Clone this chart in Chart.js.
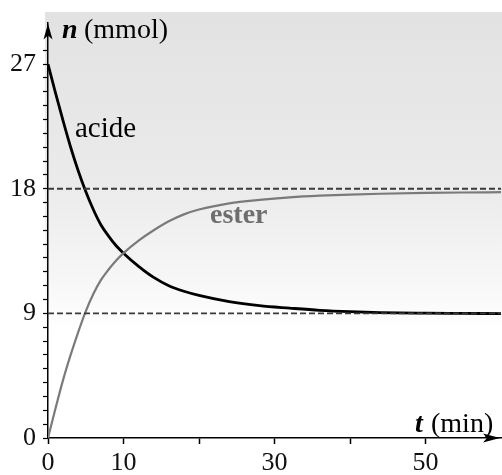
<!DOCTYPE html>
<html>
<head>
<meta charset="utf-8">
<script src="https://cdn.jsdelivr.net/npm/chart.js@4/dist/chart.umd.min.js"></script>
<style>
  html, body { margin: 0; padding: 0; background: #fff; }
  #wrap { width: 502px; height: 475px; }
</style>
</head>
<body>
<div id="wrap"><canvas id="chart"></canvas></div>
<script>
// values: t in min, n in mmol
const times = [0, 1, 2, 3, 4, 5, 6, 7, 8, 9, 10, 12, 14, 16, 18, 20, 24, 28, 32, 36, 40, 44, 50, 55, 60]
const acide = [27, 24.9, 22.9, 21.0, 19.3, 17.8, 16.5, 15.4, 14.6, 13.9, 13.35, 12.4, 11.6, 11.0, 10.6, 10.3, 9.85, 9.56, 9.38, 9.22, 9.12, 9.06, 9.02, 9.0, 8.98]
const ester = [0, 2.15, 4.2, 6.0, 7.65, 9.15, 10.4, 11.4, 12.15, 12.8, 13.35, 14.25, 15.0, 15.65, 16.15, 16.5, 16.95, 17.2, 17.38, 17.5, 17.58, 17.64, 17.7, 17.73, 17.75]
const asymptotes = [9, 18]
const yTickLabels = [0, 9, 18, 27]
const xTickLabels = [0, 10, 30, 50]
const xRange = [0, 60]
const yRange = [0, 30]

const serif = "'Liberation Serif', 'Times New Roman', serif"

const toPoints = (values) => times.map((t, i) => ({ x: t, y: values[i] }))

const dashedLines = asymptotes.map((level) => ({
  data: xRange.map((t) => ({ x: t, y: level })),
  borderColor: "#3a3a3a",
  borderWidth: 1.8,
  borderDash: [6, 3],
  pointRadius: 0,
  showLine: true
}))

const paper = {
  id: "paper",
  beforeDraw(chart) {
    const { ctx, width } = chart
    ctx.save()
    ctx.fillStyle = "#fff"
    ctx.fillRect(0, 0, width, chart.height)
    const grad = ctx.createLinearGradient(0, 12, 0, 330)
    grad.addColorStop(0, "#e2e2e2")
    grad.addColorStop(0.55, "#ebebeb")
    grad.addColorStop(0.85, "#f7f7f7")
    grad.addColorStop(1, "#ffffff")
    ctx.fillStyle = grad
    ctx.fillRect(45, 12, width - 45, 318)
    ctx.restore()
  }
}

const labels = {
  id: "labels",
  afterDraw(chart) {
    const { ctx, chartArea } = chart
    ctx.save()
    ctx.fillStyle = "#000"

    // arrow heads at the axis ends
    ctx.beginPath()
    ctx.moveTo(chartArea.left, chartArea.top + 1)
    ctx.lineTo(chartArea.left - 4.5, chartArea.top + 17)
    ctx.lineTo(chartArea.left, chartArea.top + 13)
    ctx.lineTo(chartArea.left + 4.5, chartArea.top + 17)
    ctx.closePath()
    ctx.fill()

    ctx.beginPath()
    ctx.moveTo(chartArea.right - 1, chartArea.bottom)
    ctx.lineTo(chartArea.right - 18, chartArea.bottom - 4.5)
    ctx.lineTo(chartArea.right - 14, chartArea.bottom)
    ctx.lineTo(chartArea.right - 18, chartArea.bottom + 4.5)
    ctx.closePath()
    ctx.fill()

    ctx.textBaseline = "alphabetic"
    ctx.textAlign = "left"
    ctx.font = "bold italic 28px " + serif
    ctx.fillText("n", 62, 38)
    ctx.font = "28px " + serif
    ctx.fillText("(mmol)", 84, 38)

    ctx.font = "bold italic 28px " + serif
    ctx.fillText("t", 415, 432)
    ctx.font = "28px " + serif
    ctx.fillText("(min)", 431, 432)

    ctx.font = "29px " + serif
    ctx.fillText("acide", 75, 137)

    ctx.fillStyle = "#6e6e6e"
    ctx.font = "bold 28px " + serif
    ctx.fillText("ester", 210, 223)
    ctx.restore()
  }
}

new Chart(document.getElementById("chart"), {
  type: "scatter",
  data: {
    datasets: [
      ...dashedLines,
      {
        label: "ester",
        data: toPoints(ester),
        borderColor: "#7a7a7a",
        borderWidth: 2.2,
        pointRadius: 0,
        showLine: true,
        cubicInterpolationMode: "monotone"
      },
      {
        label: "acide",
        data: toPoints(acide),
        borderColor: "#000",
        borderWidth: 2.8,
        pointRadius: 0,
        showLine: true,
        cubicInterpolationMode: "monotone"
      }
    ]
  },
  options: {
    responsive: true,
    maintainAspectRatio: false,
    animation: false,
    layout: { padding: { top: 11, right: 1, left: 0, bottom: 0 } },
    plugins: { legend: { display: false }, tooltip: { enabled: false } },
    scales: {
      x: {
        type: "linear",
        min: xRange[0],
        max: xRange[1],
        afterFit: (scale) => { scale.height = 37 },
        afterBuildTicks: (scale) => { scale.ticks = scale.ticks.filter((t) => t.value < 60) },
        ticks: {
          stepSize: 10,
          autoSkip: false,
          maxRotation: 0,
          padding: 4,
          color: "#111",
          font: { family: serif, size: 26 },
          callback: (value) => xTickLabels.includes(value) ? String(value) : ""
        },
        grid: { drawOnChartArea: false, drawTicks: true, tickLength: 6, tickColor: "#000", tickWidth: 1.5 },
        border: { color: "#000", width: 1.5 }
      },
      y: {
        type: "linear",
        min: yRange[0],
        max: yRange[1],
        afterFit: (scale) => { scale.width = 48 },
        afterBuildTicks: (scale) => { scale.ticks = scale.ticks.filter((t) => t.value <= 28) },
        ticks: {
          stepSize: 1,
          autoSkip: false,
          padding: 7,
          color: "#111",
          font: { family: serif, size: 26 },
          callback: (value) => yTickLabels.includes(value) ? String(value) : ""
        },
        grid: { drawOnChartArea: false, drawTicks: true, tickLength: 5, tickColor: "#000", tickWidth: 1.2 },
        border: { color: "#000", width: 1.5 }
      }
    }
  },
  plugins: [paper, labels]
})
</script>
</body>
</html>
